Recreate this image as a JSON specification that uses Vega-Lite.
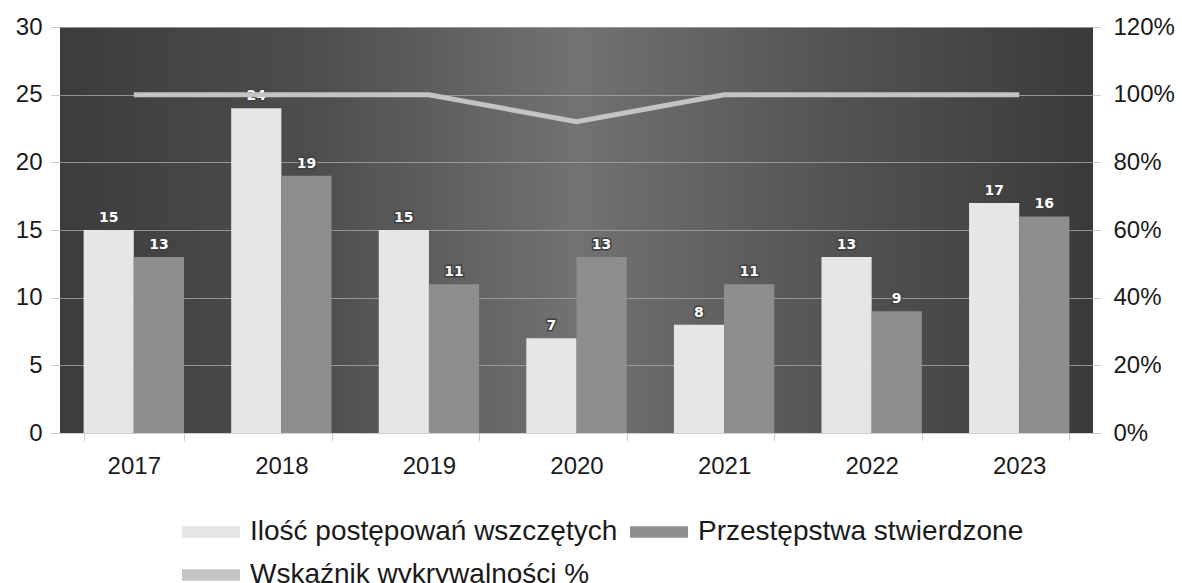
{
  "$schema": "https://vega.github.io/schema/vega-lite/v6.json",
  "autosize": {"type": "none"},
  "padding": {"left": 60, "top": 27, "right": 89, "bottom": 150},
  "width": 1033,
  "height": 406,
  "background": "white",
  "config": {
    "font": "Liberation Sans",
    "view": {
      "stroke": null,
      "fill": {
        "gradient": "linear",
        "x1": 0, "y1": 0, "x2": 1, "y2": 0,
        "stops": [
          {"offset": 0, "color": "#3c3c3c"},
          {"offset": 0.25, "color": "#4e4e4e"},
          {"offset": 0.5, "color": "#727272"},
          {"offset": 0.75, "color": "#535353"},
          {"offset": 1, "color": "#3a3a3a"}
        ]
      }
    },
    "axis": {
      "labelFont": "Liberation Sans",
      "labelFontSize": 24,
      "labelColor": "#1a1a1a",
      "title": null
    }
  },
  "data": {
    "values": [
      {"year": "2017", "series": "Ilość postępowań wszczętych", "value": 15},
      {"year": "2018", "series": "Ilość postępowań wszczętych", "value": 24},
      {"year": "2019", "series": "Ilość postępowań wszczętych", "value": 15},
      {"year": "2020", "series": "Ilość postępowań wszczętych", "value": 7},
      {"year": "2021", "series": "Ilość postępowań wszczętych", "value": 8},
      {"year": "2022", "series": "Ilość postępowań wszczętych", "value": 13},
      {"year": "2023", "series": "Ilość postępowań wszczętych", "value": 17},
      {"year": "2017", "series": "Przestępstwa stwierdzone", "value": 13},
      {"year": "2018", "series": "Przestępstwa stwierdzone", "value": 19},
      {"year": "2019", "series": "Przestępstwa stwierdzone", "value": 11},
      {"year": "2020", "series": "Przestępstwa stwierdzone", "value": 13},
      {"year": "2021", "series": "Przestępstwa stwierdzone", "value": 11},
      {"year": "2022", "series": "Przestępstwa stwierdzone", "value": 9},
      {"year": "2023", "series": "Przestępstwa stwierdzone", "value": 16},
      {"year": "2017", "series": "Wskaźnik wykrywalności %", "value": 1.0},
      {"year": "2018", "series": "Wskaźnik wykrywalności %", "value": 1.0},
      {"year": "2019", "series": "Wskaźnik wykrywalności %", "value": 1.0},
      {"year": "2020", "series": "Wskaźnik wykrywalności %", "value": 0.92},
      {"year": "2021", "series": "Wskaźnik wykrywalności %", "value": 1.0},
      {"year": "2022", "series": "Wskaźnik wykrywalności %", "value": 1.0},
      {"year": "2023", "series": "Wskaźnik wykrywalności %", "value": 1.0}
    ]
  },
  "encoding": {
    "x": {
      "field": "year",
      "type": "nominal",
      "scale": {"paddingInner": 0.32, "paddingOuter": 0.16},
      "axis": {
        "labelAngle": 0,
        "domain": true,
        "domainColor": "#cfcfcf",
        "domainWidth": 1,
        "ticks": true,
        "tickColor": "#999999",
        "tickDash": [1, 1],
        "tickSize": 8,
        "tickBand": "extent",
        "labelPadding": 13,
        "grid": false
      }
    }
  },
  "layer": [
    {
      "transform": [{"filter": "datum.series !== 'Wskaźnik wykrywalności %'"}],
      "layer": [
        {
          "mark": {"type": "bar"},
          "encoding": {
            "xOffset": {"field": "series", "type": "nominal", "scale": {"domain": ["Ilość postępowań wszczętych", "Przestępstwa stwierdzone"], "paddingInner": 0, "paddingOuter": 0}},
            "y": {
              "field": "value",
              "type": "quantitative",
              "scale": {"domain": [0, 30]},
              "axis": {
                "values": [0, 5, 10, 15, 20, 25, 30],
                "domain": false,
                "grid": true,
                "gridColor": "#a8a8a8",
                "gridWidth": 1,
                "gridOpacity": 0.8,
                "tickColor": "#999999",
                "tickDash": [1, 1],
                "tickSize": 10,
                "labelPadding": 8
              }
            },
            "color": {
              "field": "series",
              "type": "nominal",
              "scale": {
                "domain": ["Ilość postępowań wszczętych", "Przestępstwa stwierdzone", "Wskaźnik wykrywalności %"],
                "range": ["#e6e6e6", "#8e8e8e", "#c4c4c4"]
              },
              "legend": {
                "orient": "none",
                "legendX": 122,
                "legendY": 476,
                "direction": "horizontal",
                "columns": 2,
                "title": null,
                "padding": 0,
                "columnPadding": 12,
                "rowPadding": 0,
                "labelFont": "Liberation Sans",
                "labelFontSize": 28,
                "labelColor": "#1a1a1a",
                "labelOffset": 10,
                "labelLimit": 0,
                "symbolType": "M-1,-0.2H1V0.2H-1Z",
                "symbolSize": 3364,
                "symbolStrokeWidth": 0
              }
            }
          }
        },
        {
          "mark": {"type": "text", "baseline": "bottom", "dy": -5, "font": "DejaVu Sans", "fontWeight": "bold", "fontSize": 14, "fill": "#404040", "stroke": "#404040", "strokeWidth": 3},
          "encoding": {
            "xOffset": {"field": "series", "type": "nominal", "scale": {"domain": ["Ilość postępowań wszczętych", "Przestępstwa stwierdzone"], "paddingInner": 0, "paddingOuter": 0}},
            "y": {"field": "value", "type": "quantitative"},
            "text": {"field": "value", "type": "quantitative"}
          }
        },
        {
          "mark": {"type": "text", "baseline": "bottom", "dy": -5, "font": "DejaVu Sans", "fontWeight": "bold", "fontSize": 14, "fill": "#ffffff"},
          "encoding": {
            "xOffset": {"field": "series", "type": "nominal", "scale": {"domain": ["Ilość postępowań wszczętych", "Przestępstwa stwierdzone"], "paddingInner": 0, "paddingOuter": 0}},
            "y": {"field": "value", "type": "quantitative"},
            "text": {"field": "value", "type": "quantitative"}
          }
        }
      ]
    },
    {
      "transform": [{"filter": "datum.series === 'Wskaźnik wykrywalności %'"}],
      "mark": {"type": "line", "strokeWidth": 5},
      "encoding": {
        "y": {
          "field": "value",
          "type": "quantitative",
          "scale": {"domain": [0, 1.2]},
          "axis": {
            "orient": "right",
            "format": ".0%",
            "values": [0, 0.2, 0.4, 0.6, 0.8, 1.0, 1.2],
            "domain": false,
            "grid": false,
            "tickColor": "#999999",
            "tickDash": [1, 1],
            "tickSize": 8,
            "labelPadding": 12
          }
        },
        "color": {"field": "series", "type": "nominal"}
      }
    }
  ],
  "resolve": {"scale": {"y": "independent"}}
}
